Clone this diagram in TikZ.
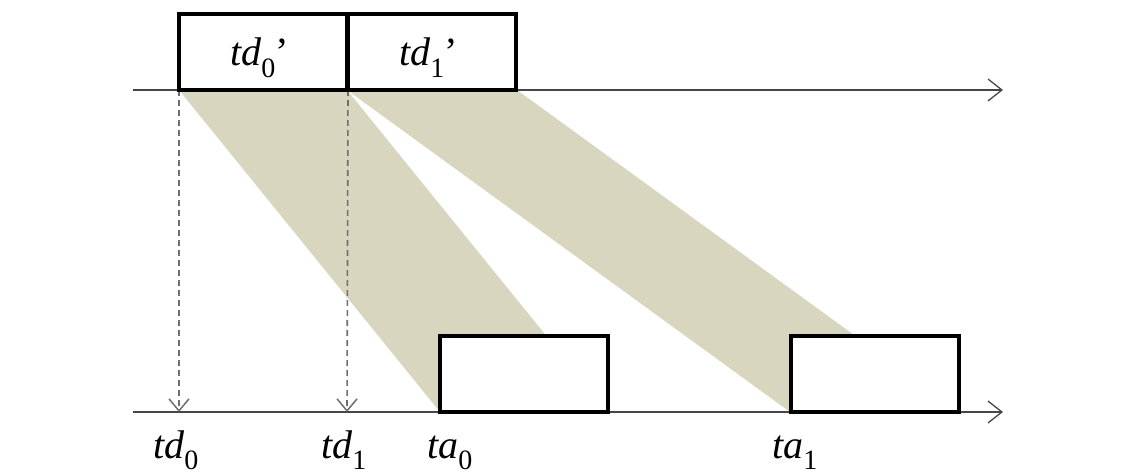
\documentclass[tikz,border=0pt]{standalone}
\usepackage{fontspec}
\setmainfont{Liberation Serif}
\usetikzlibrary{arrows.meta}
\definecolor{band}{RGB}{217,214,192}
\definecolor{axisc}{RGB}{70,70,70}
\definecolor{dropc}{RGB}{110,110,110}
\newcommand{\lbl}[2]{\textit{#1}\raisebox{-0.28em}{\fontsize{28}{28}\selectfont #2}}
\tikzset{
  slot/.style={draw=black, line width=4pt, fill=white, minimum width=168pt, minimum height=76pt, inner sep=0pt, outer sep=0pt},
  axisline/.style={draw=axisc, line width=1.3pt, -{Straight Barb[length=14pt,width=22pt,line width=1.3pt]}},
  drop/.style={draw=dropc, line width=1.6pt, dash pattern=on 6pt off 4pt, -{Straight Barb[length=12pt,width=20pt,line width=1.5pt]}},
  lab/.style={anchor=base west, inner sep=0pt, font=\fontsize{40}{40}\selectfont},
}
\begin{document}
\begin{tikzpicture}[x=1pt,y=-1pt]
\useasboundingbox (0,0) rectangle (1140,476);
% coordinates of slots
\coordinate (t0a) at (179,90); \coordinate (t0b) at (347,90);
\coordinate (t1a) at (347,90); \coordinate (t1b) at (517,90);
\coordinate (b0a) at (440,412); \coordinate (b0b) at (608,412);
\coordinate (b1a) at (790,412); \coordinate (b1b) at (960,412);
% bands
\fill[band] (t0a) -- (t0b) -- (b0b) -- (b0a) -- cycle;
\fill[band] (t1a) -- (t1b) -- (b1b) -- (b1a) -- cycle;
% axes
\coordinate (ax1s) at (133,90); \coordinate (ax1e) at (1003,90);
\coordinate (ax2s) at (133,412); \coordinate (ax2e) at (1003,412);
\draw[axisline] (ax1s) -- (ax1e);
\draw[axisline] (ax2s) -- (ax2e);
% slots
\node[slot] (top0) at (263,52) {};
\node[slot] (top1) at (432,52) {};
\node[slot] (bot0) at (524,374) {};
\node[slot] (bot1) at (875,374) {};
% dashed drops
\coordinate (d0) at (179,412); \coordinate (d1) at (347,412);
\draw[drop] (top0.south west) -- (d0);
\draw[drop] (top1.south west) -- (d1);
\node[slot] at (top0) {};
\node[slot] at (top1) {};
% labels
\node[lab] (l0p) at (230,66) {\lbl{td}{0}’};
\node[lab] (l1p) at (399,66) {\lbl{td}{1}’};
\node[lab] (ld0) at (153,458) {\lbl{td}{0}};
\node[lab] (ld1) at (321,458) {\lbl{td}{1}};
\node[lab] (la0) at (427,458) {\lbl{ta}{0}};
\node[lab] (la1) at (772,458) {\lbl{ta}{1}};
\end{tikzpicture}
\end{document}
